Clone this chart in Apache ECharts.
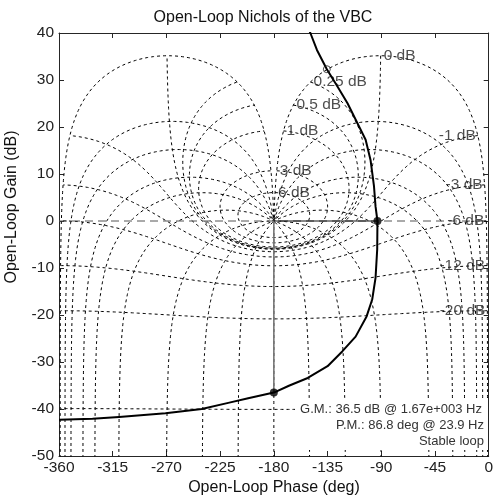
<!DOCTYPE html>
<html>
<head>
<meta charset="utf-8">
<script src="https://cdn.jsdelivr.net/npm/echarts@6/dist/echarts.min.js"></script>
<style>
  html, body { margin: 0; padding: 0; background: #fff; }
  #chart { width: 496px; height: 498px; }
</style>
</head>
<body>
<div id="chart"></div>
<script>
// Axis ranges and ticks
const phaseAxis = { min: -360, max: 0, step: 45 };
const gainAxis = { min: -50, max: 40, step: 10 };

// Open-loop frequency response of the VBC (phase in deg, gain in dB)
const curvePhase = [-158.4, -149.4, -143.9, -135.6, -126.7, -118.4, -111.5, -103.1, -99.0, -96.1, -94.8, -93.2,
  -93.4, -94.8, -97.6, -102.3, -111.5, -122.5, -135.0, -151.6, -166.9, -180.0, -201.5, -218.2, -240.4,
  -270.8, -309.7, -331.9, -360.0];
const curveGain = [45.0, 40.0, 36.4, 32.3, 28.6, 25.1, 21.6, 17.3, 13.0, 7.4, 3.1, 0.0,
  -6.0, -12.1, -16.7, -20.3, -24.6, -27.7, -30.9, -33.4, -35.0, -36.5, -37.7, -38.7, -40.0,
  -40.9, -41.7, -42.1, -42.3];

// Stability margins
const gainMarginDb = 36.5;
const gainMarginHz = '1.67e+003';
const phaseMarginDeg = 86.8;
const phaseMarginHz = '23.9';

// Hollow marker on the response
const ringPhase = [-135.6];
const ringGain = [32.3];

// Nichols grid: closed-loop magnitudes (dB) and closed-loop phases (deg)
const closedLoopGainsDb = [6, 3, 1, 0.5, 0.25, 0, -1, -3, -6, -12, -20, -40];
const closedLoopPhasesDeg = [-1, -5, -10, -20, -30, -50, -90, -120, -150, -180,
  -210, -240, -270, -310, -330, -340, -350, -355, -359];

const FONT = '"Liberation Sans", Arial, Helvetica, sans-serif';
const D2R = Math.PI / 180;

// Open-loop point G = T / (1 - T) for closed-loop T = 10^(m/20) * e^(j psi)
function openLoopFromClosed(magDb, psiDeg) {
  const r = Math.pow(10, magDb / 20);
  const tr = r * Math.cos(psiDeg * D2R), ti = r * Math.sin(psiDeg * D2R);
  const dr = 1 - tr, di = -ti;
  const den = dr * dr + di * di;
  const gr = (tr * dr + ti * di) / den;
  const gi = (ti * dr - tr * di) / den;
  return [Math.atan2(gi, gr) / D2R, 10 * Math.log10(gr * gr + gi * gi)];
}

// Keep phase continuous along a contour, starting near ref
function unwrapTrace(raw, ref) {
  const out = [];
  let prev = ref;
  raw.forEach(([ph, g]) => {
    const p = ph + 360 * Math.round((prev - ph) / 360);
    prev = p;
    out.push([p, g]);
  });
  return out;
}

function psiSweep() {
  const a = [];
  for (let p = -1; p > -20; p -= 0.05) a.push(p);
  for (let p = -20; p > -340; p -= 0.5) a.push(p);
  for (let p = -340; p >= -359.0001; p -= 0.05) a.push(p);
  return a;
}

function magSweep() {
  const a = [];
  for (let m = -90; m < -3; m += 0.25) a.push(m);
  for (let m = -3; m < 3; m += 0.005) a.push(m);
  for (let m = 3; m <= 60; m += 0.25) a.push(m);
  return a;
}

const gridLine = { color: '#000', width: 1, type: [3, 3] };
const series = [];

const psis = psiSweep();
closedLoopGainsDb.forEach(m => {
  series.push({
    type: 'line', silent: true, showSymbol: false, z: 1, clip: true,
    lineStyle: gridLine,
    data: unwrapTrace(psis.map(p => openLoopFromClosed(m, p)), m >= 0 ? -135 : -5)
  });
});

const mags = magSweep();
closedLoopPhasesDeg.forEach(psi => {
  series.push({
    type: 'line', silent: true, showSymbol: false, z: 1, clip: true,
    lineStyle: gridLine,
    data: unwrapTrace(mags.map(m => openLoopFromClosed(m, psi)), psi)
  });
});

// Contour labels at closed-loop phase -1 deg
const labelData = closedLoopGainsDb.map(m => {
  const pt = unwrapTrace([openLoopFromClosed(m, -1)], m >= 0 ? -135 : -5)[0];
  return {
    name: m + ' dB',
    value: pt,
    label: { position: m >= 0 ? 'right' : 'left', distance: m >= 0 ? 3 : 2 }
  };
});
series.push({
  type: 'scatter', silent: true, symbolSize: 0, z: 2,
  data: labelData,
  label: { show: true, formatter: '{b}', color: '#222', fontSize: 15.5, fontFamily: FONT }
});

// 0 dB reference line
series.push({
  type: 'line', silent: true, showSymbol: false, z: 2,
  lineStyle: { color: '#555', width: 1, type: [8, 5] },
  data: [[phaseAxis.min, 0], [phaseAxis.max, 0]]
});

// Gain margin (vertical) and phase margin (horizontal) indicators
series.push({
  type: 'line', silent: true, showSymbol: false, z: 3,
  lineStyle: { color: '#777', width: 1.6 },
  data: [[-180, 0], [-180, -gainMarginDb]]
});
series.push({
  type: 'line', silent: true, showSymbol: false, z: 3,
  lineStyle: { color: '#111', width: 1 },
  data: [[-180, 0], [-180 + phaseMarginDeg, 0]]
});

// Open-loop response
series.push({
  type: 'line', silent: true, showSymbol: false, z: 4, clip: true, smooth: false,
  lineStyle: { color: '#000', width: 2, join: 'round' },
  data: curvePhase.map((p, i) => [p, curveGain[i]])
});

// Margin points
series.push({
  type: 'scatter', silent: true, z: 5, symbolSize: 8,
  itemStyle: { color: '#000' },
  data: [[-180 + phaseMarginDeg, 0], [-180, -gainMarginDb]]
});
series.push({
  type: 'scatter', silent: true, z: 5, symbol: 'circle', symbolSize: 7,
  itemStyle: { color: 'rgba(255,255,255,0)', borderColor: '#222', borderWidth: 1 },
  data: ringPhase.map((p, i) => [p, ringGain[i]])
});

const tickStyle = { inside: true, length: 5, lineStyle: { color: '#262626', width: 1 } };
const lineStyleAxis = { show: true, onZero: false, lineStyle: { color: '#262626', width: 1 } };
const labelStyle = { color: '#222', fontSize: 15.5, fontFamily: FONT };

const option = {
  animation: false,
  backgroundColor: '#fff',
  grid: { left: 59, top: 33, width: 433, height: 423, containLabel: false },
  xAxis: [
    { type: 'value', position: 'bottom', min: phaseAxis.min, max: phaseAxis.max, interval: phaseAxis.step,
      axisLine: lineStyleAxis, axisTick: tickStyle, splitLine: { show: false },
      axisLabel: Object.assign({ margin: 4 }, labelStyle) },
    { type: 'value', position: 'top', min: phaseAxis.min, max: phaseAxis.max, interval: phaseAxis.step,
      axisLine: lineStyleAxis, axisTick: tickStyle, splitLine: { show: false },
      axisLabel: { show: false } }
  ],
  yAxis: [
    { type: 'value', position: 'left', min: gainAxis.min, max: gainAxis.max, interval: gainAxis.step,
      axisLine: lineStyleAxis, axisTick: tickStyle, splitLine: { show: false },
      axisLabel: Object.assign({ margin: 5 }, labelStyle) },
    { type: 'value', position: 'right', min: gainAxis.min, max: gainAxis.max, interval: gainAxis.step,
      axisLine: lineStyleAxis, axisTick: tickStyle, splitLine: { show: false },
      axisLabel: { show: false } }
  ],
  graphic: [
    { type: 'text', x: 263, y: 18, z: 100, silent: true,
      style: { text: 'Open-Loop Nichols of the VBC', fill: '#111', font: '16px ' + FONT,
        align: 'center', verticalAlign: 'middle', textAlign: 'center', textVerticalAlign: 'middle' } },
    { type: 'text', x: 274, y: 488, z: 100, silent: true,
      style: { text: 'Open-Loop Phase (deg)', fill: '#111', font: '16px ' + FONT,
        align: 'center', verticalAlign: 'middle', textAlign: 'center', textVerticalAlign: 'middle' } },
    { type: 'text', x: 12, y: 207, rotation: Math.PI / 2, z: 100, silent: true,
      style: { text: 'Open-Loop Gain (dB)', fill: '#111', font: '16px ' + FONT,
        align: 'center', verticalAlign: 'middle', textAlign: 'center', textVerticalAlign: 'middle' } },
    { type: 'rect', z: 100, silent: true,
      shape: { x: 295, y: 398, width: 193, height: 52 },
      style: { fill: '#fff' } },
    { type: 'text', x: 482, y: 409.5, z: 101, silent: true,
      style: { text: 'G.M.: ' + gainMarginDb + ' dB @ ' + gainMarginHz + ' Hz', fill: '#333', font: '13px ' + FONT,
        align: 'right', verticalAlign: 'middle', textAlign: 'right', textVerticalAlign: 'middle' } },
    { type: 'text', x: 484, y: 425, z: 101, silent: true,
      style: { text: 'P.M.: ' + phaseMarginDeg + ' deg @ ' + phaseMarginHz + ' Hz', fill: '#333', font: '13px ' + FONT,
        align: 'right', verticalAlign: 'middle', textAlign: 'right', textVerticalAlign: 'middle' } },
    { type: 'text', x: 484, y: 441.7, z: 101, silent: true,
      style: { text: 'Stable loop', fill: '#333', font: '13px ' + FONT,
        align: 'right', verticalAlign: 'middle', textAlign: 'right', textVerticalAlign: 'middle' } }
  ],
  series: series
};

const chart = echarts.init(document.getElementById('chart'), null, { renderer: 'canvas' });
chart.setOption(option);
</script>
</body>
</html>
